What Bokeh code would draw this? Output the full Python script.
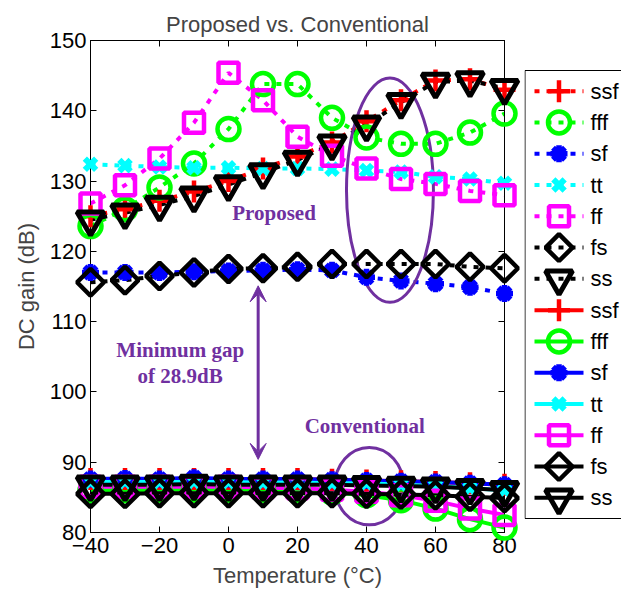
import math

from bokeh.core.properties import value
from bokeh.embed import file_html
from bokeh.layouts import row
from bokeh.models import Arrow, Label, LinearAxis, Range1d, VeeHead
from bokeh.plotting import figure
from bokeh.resources import INLINE

# Temperature sweep (degrees C)
temps = [-40, -30, -20, -10, 0, 10, 20, 30, 40, 50, 60, 70, 80]

# DC gain (dB) of the proposed amplifier at each process corner
prop_ssf = [125.0, 126.0, 127.2, 128.5, 130.0, 131.8, 133.5, 135.5, 138.5, 141.5, 144.3, 144.5, 143.0]
prop_fff = [123.6, 126.0, 129.1, 132.5, 137.4, 143.8, 143.8, 139.0, 136.2, 135.3, 135.3, 136.9, 139.6]
prop_sf = [117.0, 117.0, 117.0, 117.1, 117.2, 117.3, 117.4, 117.3, 116.3, 115.8, 115.4, 114.9, 114.0]
prop_tt = [132.4, 132.2, 132.0, 131.9, 131.9, 131.8, 131.8, 131.7, 131.5, 131.3, 130.6, 130.3, 129.7]
prop_ff = [126.8, 129.4, 133.2, 138.3, 145.4, 141.5, 136.3, 133.6, 131.8, 130.3, 129.6, 128.6, 128.0]
prop_fs = [115.6, 115.9, 116.5, 117.0, 117.5, 117.6, 117.8, 118.2, 118.2, 118.2, 118.2, 117.8, 117.6]
prop_ss = [124.5, 125.5, 126.6, 127.9, 129.5, 131.2, 133.0, 135.3, 138.0, 141.2, 144.1, 144.3, 143.2]

# DC gain (dB) of the conventional amplifier at each process corner
conv_ssf = [87.6, 87.6, 87.6, 87.6, 87.6, 87.6, 87.6, 87.5, 87.4, 87.3, 87.2, 87.0, 86.8]
conv_fff = [86.0, 86.0, 86.1, 86.1, 86.1, 86.1, 86.0, 85.7, 85.3, 84.6, 83.4, 81.9, 80.7]
conv_sf = [87.6, 87.7, 87.6, 87.8, 87.6, 87.6, 87.6, 87.5, 87.4, 87.3, 87.2, 87.0, 86.8]
conv_tt = [87.2, 87.2, 87.2, 87.2, 87.2, 87.1, 87.1, 87.0, 87.0, 86.8, 86.6, 86.3, 86.0]
conv_ff = [86.5, 86.5, 86.5, 86.5, 86.5, 86.4, 86.3, 86.1, 85.8, 85.3, 84.5, 83.4, 82.5]
conv_fs = [85.5, 85.5, 85.6, 85.6, 85.6, 85.6, 85.6, 85.6, 85.5, 85.4, 85.3, 85.1, 84.9]
conv_ss = [86.8, 86.8, 86.8, 86.9, 86.8, 86.8, 86.8, 86.8, 86.7, 86.6, 86.5, 86.3, 86.0]

corner_names = ["ssf", "fff", "sf", "tt", "ff", "fs", "ss"]
x_ticks = [-40, -20, 0, 20, 40, 60, 80]
y_ticks = [80, 90, 100, 110, 120, 130, 140, 150]

# Minimum-gap arrow end points (dB) at the temperature where it is drawn
gap_arrow_x = 8.6
gap_arrow_top = 115.1
gap_arrow_bottom = 90.4

PURPLE = "#7030A0"
SANS = "Liberation Sans"
SERIF = "Liberation Serif"

styles = {
    "ssf": dict(color="#FF0000", marker="cross", size=22, angle=0.0, lw=4.5),
    "fff": dict(color="#00FF00", marker="circle", size=22, angle=0.0, lw=4.5),
    "sf": dict(color="#0000FF", marker="asterisk", size=17, angle=0.0, lw=5.5),
    "tt": dict(color="#00FFFF", marker="x", size=16, angle=0.0, lw=6.0),
    "ff": dict(color="#FF00FF", marker="square", size=20, angle=0.0, lw=4.5),
    "fs": dict(color="#000000", marker="square", size=19, angle=math.pi / 4, lw=4.5),
    "ss": dict(color="#000000", marker="inverted_triangle", size=27, angle=0.0, lw=5),
}

proposed = dict(zip(corner_names, [prop_ssf, prop_fff, prop_sf, prop_tt, prop_ff, prop_fs, prop_ss]))
conventional = dict(zip(corner_names, [conv_ssf, conv_fff, conv_sf, conv_tt, conv_ff, conv_fs, conv_ss]))

TOP, BOTTOM = 40, 60          # borders above and below the axes box
MAIN_W, LEG_W, FIG_H = 524, 97, 592

# ---------------------------------------------------------------- main axes
p = figure(
    width=MAIN_W,
    height=FIG_H,
    x_range=Range1d(-40, 80),
    y_range=Range1d(80, 150),
    output_backend="svg",
    toolbar_location=None,
    min_border_left=90,
    min_border_right=20,
    min_border_top=TOP,
    min_border_bottom=BOTTOM,
    background_fill_color="white",
    border_fill_color="white",
)
p.grid.visible = False
p.outline_line_color = "black"
p.outline_line_width = 1

p.title.text = "Proposed vs. Conventional"
p.title.align = "center"
p.title.vertical_align = "middle"
p.title.text_font = SANS
p.title.text_font_size = "22px"
p.title.text_font_style = "normal"
p.title.standoff = 6

p.xaxis.axis_label = "Temperature (\u00b0C)"
p.yaxis.axis_label = "DC gain (dB)"
p.xaxis.ticker = x_ticks
p.yaxis.ticker = y_ticks
for ax in (p.xaxis[0], p.yaxis[0]):
    ax.axis_label_text_font = SANS
    ax.axis_label_text_font_size = "22px"
    ax.axis_label_text_font_style = "normal"
    ax.major_label_text_font = SANS
    ax.major_label_text_font_size = "22px"
    ax.major_label_text_color = "black"
    ax.major_tick_in = 6
    ax.major_tick_out = 0
    ax.minor_tick_line_color = None
    ax.axis_line_color = "black"
    ax.major_tick_line_color = "black"
p.xaxis.major_label_standoff = 5
p.xaxis.axis_label_standoff = 7
p.yaxis.major_label_standoff = 4
p.yaxis.axis_label_standoff = 8

# Box axes on the top and right, inward ticks only and no labels
for loc, ticks in (("above", x_ticks), ("right", y_ticks)):
    box_ax = LinearAxis(
        ticker=ticks,
        major_label_overrides={t: "" for t in ticks},
        major_label_text_font_size="0px",
        major_label_standoff=0,
        major_tick_in=6,
        major_tick_out=0,
        minor_tick_line_color=None,
        axis_line_color="black",
    )
    p.add_layout(box_ax, loc)


def draw_series(fig, xs, ys, name, dotted):
    st = styles[name]
    fig.line(
        xs, ys,
        line_color=st["color"],
        line_width=4,
        line_dash="5 7" if dotted else "solid",
        line_cap="butt",
    )
    # markers sit on the overlay level so that they are not cut at the box
    fig.scatter(
        xs, ys,
        marker=st["marker"],
        size=st["size"],
        angle=st["angle"],
        line_color=st["color"],
        line_width=st["lw"],
        fill_color=None,
        level="overlay",
    )


for name in corner_names:
    draw_series(p, temps, proposed[name], name, dotted=True)
for name in corner_names:
    draw_series(p, temps, conventional[name], name, dotted=False)

# Highlight ellipses
p.ellipse(x=46.8, y=128.7, width=25.2, height=31.9, fill_color=None,
          line_color=PURPLE, line_width=3)
p.ellipse(x=40.8, y=86.6, width=20.0, height=11.0, fill_color=None,
          line_color=PURPLE, line_width=3)

# Minimum-gap double arrow
p.add_layout(Arrow(
    x_start=gap_arrow_x, y_start=gap_arrow_bottom,
    x_end=gap_arrow_x, y_end=gap_arrow_top,
    line_color=PURPLE, line_width=3,
    start=VeeHead(size=16, fill_color=PURPLE, line_color=PURPLE, line_width=1),
    end=VeeHead(size=16, fill_color=PURPLE, line_color=PURPLE, line_width=1),
))

for text, x, y in (("Proposed", 13.2, 125.4),
                   ("Minimum gap", -14.0, 105.9),
                   ("of 28.9dB", -14.0, 102.2),
                   ("Conventional", 39.5, 95.2)):
    p.add_layout(Label(
        x=x, y=y, text=text, text_align="center", text_baseline="middle",
        text_font=SERIF, text_font_style="bold", text_font_size="21px",
        text_color=PURPLE,
    ))

# ---------------------------------------------------------------- legend strip
# A strip beside the axes in page-pixel units (y grows downward); its frame
# lines up with the main axes box, and the legend box runs past the page edge.
leg = figure(
    width=LEG_W,
    height=FIG_H,
    title=None,
    x_range=Range1d(0, LEG_W),
    y_range=Range1d(FIG_H - BOTTOM, TOP),
    output_backend="svg",
    toolbar_location=None,
    x_axis_location=None,
    y_axis_location=None,
    min_border_left=0,
    min_border_right=0,
    min_border_top=TOP,
    min_border_bottom=BOTTOM,
    outline_line_color=None,
    background_fill_color="white",
    border_fill_color="white",
)
leg.grid.visible = False

box_top, box_bottom = 70, 518
row_h = (box_bottom - box_top - 10) / 14.0
leg.quad(left=[0.5], right=[LEG_W + 40], top=[box_top], bottom=[box_bottom],
         fill_color="white", line_color="black", line_width=1)

entries = [(n, True) for n in corner_names] + [(n, False) for n in corner_names]
for i, (name, dotted) in enumerate(entries):
    st = styles[name]
    yc = box_top + 5 + row_h * (i + 0.5)
    leg.line([10, 59], [yc, yc], line_color=st["color"], line_width=4,
             line_dash="5 7" if dotted else "solid", line_cap="butt")
    leg.scatter([34.5], [yc], marker=st["marker"], size=st["size"], angle=st["angle"],
                line_color=st["color"], line_width=st["lw"], fill_color=None)
    leg.text(x=[66], y=[yc], text=[name], text_font=value(SANS), text_font_size="22px",
             text_align="left", text_baseline="middle", text_color="black")

layout = row(p, leg, spacing=0)
open("out.html", "w").write(file_html(layout, INLINE))
